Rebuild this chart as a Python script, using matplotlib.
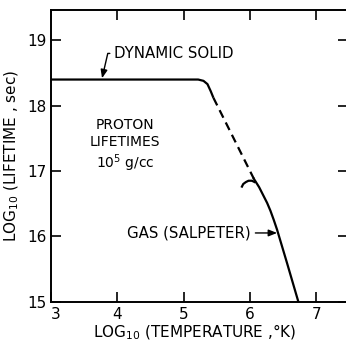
import matplotlib
matplotlib.use("Agg")
import matplotlib.pyplot as plt

# значения (log10 T, log10 lifetime)
solid_x = [3.0, 5.22, 5.30, 5.36, 5.41, 5.45]
solid_y = [18.40, 18.40, 18.38, 18.33, 18.22, 18.12]

dash_x = [5.45, 6.06]
dash_y = [18.12, 16.88]

gas_x = [6.06, 6.14, 6.20, 6.26, 6.31, 6.36, 6.41, 6.56, 6.73]
gas_y = [16.88, 16.75, 16.63, 16.51, 16.39, 16.25, 16.10, 15.59, 15.0]

hook_x = [5.88, 5.90, 5.94, 5.98, 6.03, 6.07]
hook_y = [16.76, 16.80, 16.83, 16.85, 16.85, 16.83]

xticks = [3, 4, 5, 6, 7]
yticks = [15, 16, 17, 18, 19]

plt.rcParams["font.family"] = "DejaVu Sans"

fig = plt.figure(figsize=(3.46, 3.46), dpi=100)
ax = fig.add_axes([0.1474, 0.1286, 0.8584, 0.8434])

lw = 1.6
ax.plot(solid_x, solid_y, color="black", lw=lw, solid_capstyle="butt")
ax.plot(dash_x, dash_y, color="black", lw=lw, ls=(0, (3.8, 2.4)))
ax.plot(gas_x, gas_y, color="black", lw=lw)
ax.plot(hook_x, hook_y, color="black", lw=lw)

ax.set_xlim(3, 7.48)
ax.set_ylim(15, 19.47)
ax.set_xticks(xticks)
ax.set_yticks(yticks)
ax.set_xticklabels([str(t) for t in xticks])
ax.set_yticklabels([str(t) for t in yticks])

ax.tick_params(direction="in", length=7.5, width=1.2, labelsize=11,
               top=True, right=True, pad=4)
ax.tick_params(axis="y", pad=3)
ax.get_xticklabels()[0].set_horizontalalignment("left")

for s in ax.spines.values():
    s.set_linewidth(1.4)

ax.set_xlabel("LOG$_{10}$ (TEMPERATURE ,°K)", fontsize=11)
ax.set_ylabel("LOG$_{10}$ (LIFETIME , sec)", fontsize=11)
ax.xaxis.set_label_coords(0.485, -0.074)
ax.yaxis.set_label_coords(-0.10, 0.5)

# подписи со стрелками
arrow = dict(arrowstyle="-|>,head_length=0.5,head_width=0.2", color="black",
             lw=1.0, mutation_scale=10, shrinkA=1, shrinkB=0,
             connectionstyle="angle,angleA=0,angleB=77,rad=0")
ax.annotate("DYNAMIC SOLID", xy=(3.77, 18.42), xytext=(3.95, 18.80),
            ha="left", va="center", fontsize=10.8, arrowprops=arrow)

arrow2 = dict(arrowstyle="-|>,head_length=0.5,head_width=0.2", color="black",
              lw=1.0, mutation_scale=10, shrinkA=1, shrinkB=0)
ax.annotate("GAS (SALPETER)", xy=(6.41, 16.05), xytext=(6.02, 16.05),
            ha="right", va="center", fontsize=10.8, arrowprops=arrow2)

ax.text(4.12, 17.38, "PROTON\nLIFETIMES\n10$^5$ g/cc", ha="center",
        va="center", multialignment="center", fontsize=10, linespacing=1.25)

fig.savefig("out.png", dpi=100)
